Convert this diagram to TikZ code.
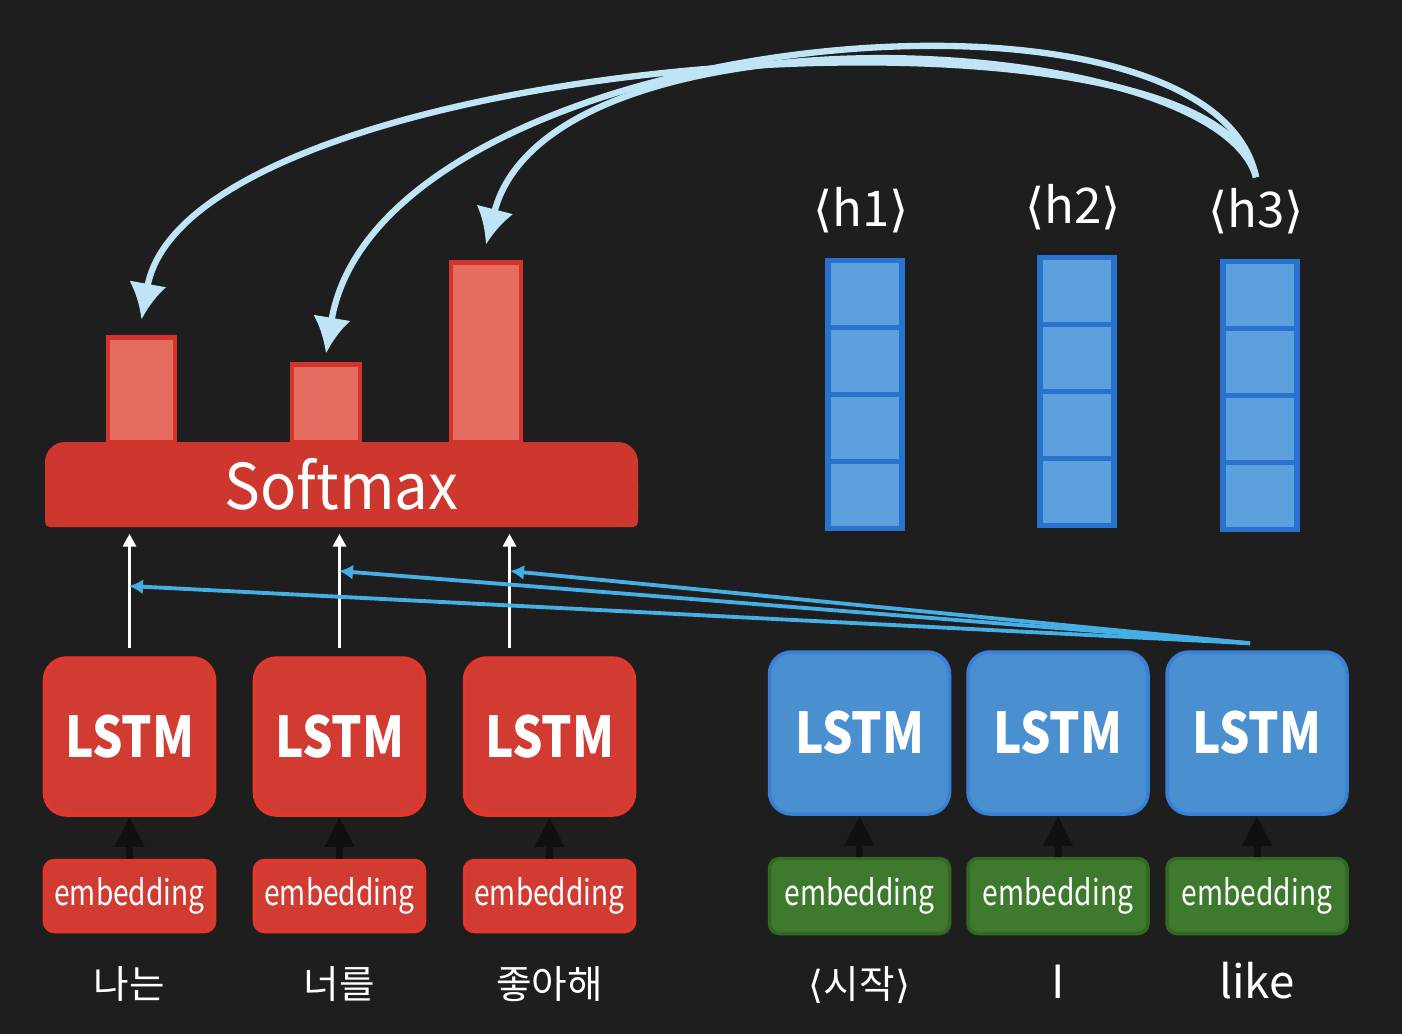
\documentclass[tikz,border=0pt]{standalone}
\usepackage{fontspec}
\setmainfont{Noto Sans CJK KR}
\newfontfamily\brkfont{DejaVu Sans}
\newfontfamily\lstmfont[FakeStretch=0.85]{Noto Sans CJK KR}
\newfontfamily\embfont[FakeStretch=0.8]{Noto Sans CJK KR}
\newfontfamily\smfont[FakeStretch=0.95]{Noto Sans CJK KR}
\usetikzlibrary{arrows.meta,positioning,calc}

\definecolor{bgdark}{RGB}{30,30,30}
\definecolor{redfill}{RGB}{209,59,50}
\definecolor{redline}{RGB}{225,55,45}
\definecolor{smfill}{RGB}{206,55,45}
\definecolor{barfill}{RGB}{228,108,96}
\definecolor{barline}{RGB}{212,52,42}
\definecolor{bluefill}{RGB}{74,143,208}
\definecolor{blueline}{RGB}{58,128,214}
\definecolor{cellfill}{RGB}{92,160,222}
\definecolor{cellline}{RGB}{40,115,205}
\definecolor{greenfill}{RGB}{62,122,46}
\definecolor{greenline}{RGB}{50,104,36}
\definecolor{ctxblue}{RGB}{69,174,226}
\definecolor{attnblue}{RGB}{190,228,246}
\definecolor{feeddark}{RGB}{16,16,16}

\newcommand{\ang}[1]{{\brkfont ⟨}#1{\brkfont ⟩}}

\tikzset{
    lstmred/.style={draw=redline, fill=redfill, line width=1pt, rounded corners=2.2mm, minimum width=1.7cm, minimum height=1.57cm, inner sep=0, text=white, font=\lstmfont\fontsize{16}{16}\selectfont\bfseries},
    lstmblue/.style={lstmred, draw=blueline, fill=bluefill, minimum width=1.8cm, minimum height=1.62cm},
    embred/.style={draw=redline, fill=redfill, line width=1pt, rounded corners=1mm, minimum width=1.7cm, minimum height=0.71cm, inner sep=0, text=white, font=\embfont\fontsize{10}{10}\selectfont},
    embgreen/.style={embred, draw=greenline, fill=greenfill, minimum width=1.8cm, minimum height=0.75cm},
    cell/.style={draw=cellline, fill=cellfill, line width=1.5pt, minimum width=0.74cm, minimum height=0.67cm, inner sep=0},
    probbar/.style={draw=barline, fill=barfill, line width=1.3pt, inner sep=0, anchor=south},
    softbox/.style={minimum width=5.93cm, minimum height=0.85cm, inner sep=0, text=white, font=\smfont\fontsize{18}{18}\selectfont},
    word/.style={text=white, inner sep=0, text height=3mm, text depth=0.6mm, font=\fontsize{11}{11}\selectfont},
    wordlat/.style={word, font=\fontsize{13}{13}\selectfont},
    hlab/.style={text=white, inner sep=0, anchor=base, font=\fontsize{14}{14}\selectfont},
    feed/.style={-{Triangle[length=3mm, width=2.8mm]}, line width=2pt, feeddark},
    upline/.style={-{Triangle[length=1.3mm, width=1.3mm]}, line width=0.9pt, white, shorten <=0.8mm, shorten >=0.6mm},
    ctx/.style={-{Latex[length=1.4mm, width=1.5mm]}, line width=1.1pt, ctxblue},
    attn/.style={-{Latex[length=3.6mm, width=3.8mm]}, line width=1.8pt, attnblue}
}

\begin{document}
\begin{tikzpicture}[x=0.1mm, y=-0.1mm]
\useasboundingbox (0,0) rectangle (1402,1034);
\fill[bgdark] (0,0) rectangle (1402,1034);

% softmax output
\node[probbar, minimum width=0.67cm, minimum height=1.05cm] (p1) at (141.5,445) {};
\node[probbar, minimum width=0.68cm, minimum height=0.78cm] (p2) at (326,445) {};
\node[probbar, minimum width=0.70cm, minimum height=1.80cm] (p3) at (486,445) {};
\fill[smfill, rounded corners=2mm] (45,442) rectangle (638,527);
\fill[smfill, rounded corners=0.5mm] (45,480) rectangle (638,527);
\node[softbox] (sm) at (341.5,484.5) {Softmax};

% decoder side
\foreach \i/\x in {1/129.5, 2/339.5, 3/549.5} {
    \node[lstmred] (r\i) at (\x,736.5) {LSTM};
    \node[embred, below=4.2mm of r\i] (e\i) {embedding};
    \draw[feed] (e\i.north) -- (r\i.south);
}
\node[word, below=3.4mm of e1] (k1) {나는};
\node[word, below=3.4mm of e2] (k2) {너를};
\node[word, below=3.4mm of e3] (k3) {좋아해};

% encoder side
\foreach \i/\x in {1/859.5, 2/1058, 3/1257} {
    \node[lstmblue] (b\i) at (\x,733) {LSTM};
    \node[embgreen, below=4.1mm of b\i] (g\i) {embedding};
    \draw[feed] (g\i.north) -- (b\i.south);
}
\node[word, below=3.2mm of g1] (d1) {\ang{시작}};
\node[wordlat, below=3.2mm of g2] (d2) {I};
\node[wordlat, below=3.2mm of g3] (d3) {like};

% hidden states
\foreach \n/\x/\y in {1/865/258, 2/1077/255, 3/1260/259} {
    \foreach \k in {1,...,4}
        \node[cell, anchor=north] (h\n\k) at (\x,{\y+67*(\k-1)}) {};
    \node[hlab] (hl\n) at (\x-4,\y-32) {\ang{h\n}};
}

% LSTM outputs into softmax
\coordinate (r3up) at ([xshift=-4mm]r3.north);
\draw[upline] (r1.north) -- (r1.north |- sm.south);
\draw[upline] (r2.north) -- (r2.north |- sm.south);
\draw[upline] (r3up) -- (r3up |- sm.south);

% context lines
\coordinate (b3top) at ([shift={(-7,-7)}]b3.north);
\coordinate (w1) at (129,586);
\coordinate (w2) at (339,571);
\coordinate (w3) at (510,571);
\draw[ctx] (b3top) -- (w1);
\draw[ctx] (b3top) -- (w2);
\draw[ctx] (b3top) -- (w3);

% attention arcs
\coordinate (s3) at ([yshift=1mm]hl3.north);
\coordinate (a1) at ([yshift=1.6mm]p1.north);
\coordinate (a2) at ([yshift=0.9mm]p2.north);
\coordinate (a3) at ([yshift=1.6mm]p3.north);
\draw[attn] (s3) .. controls (1215,-20) and (190,50) .. (a1);
\draw[attn] (s3) .. controls (1210,-50) and (380,30) .. (a2);
\draw[attn] (s3) .. controls (1215,30) and (550,-5) .. (a3);
\end{tikzpicture}
\end{document}
